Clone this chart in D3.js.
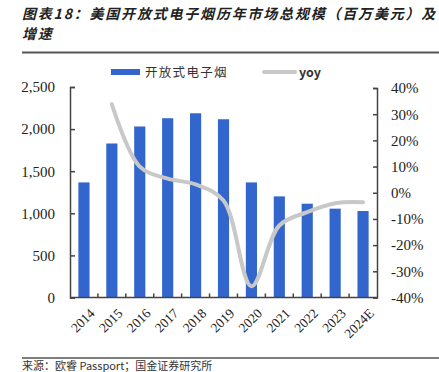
<!DOCTYPE html>
<html lang="zh">
<head>
<meta charset="utf-8">
<title>美国开放式电子烟历年市场总规模</title>
<script src="https://cdn.jsdelivr.net/npm/d3@7"></script>
<style>
  body { margin: 0; background: #fff; }
  svg { display: block; }
</style>
</head>
<body>
<div id="chart"></div>
<script>
// 数据
var years = ["2014", "2015", "2016", "2017", "2018", "2019", "2020", "2021", "2022", "2023", "2024E"];
var sales = [1367, 1829, 2031, 2129, 2188, 2117, 1367, 1201, 1114, 1055, 1027];   // 百万美元
var yoy = [null, 33.8, 10.0, 5.4, 3.2, -3.0, -35.7, -12.5, -7.4, -4.0, -3.6];      // %
var leftTicks = [0, 500, 1000, 1500, 2000, 2500];
var rightTicks = [-40, -30, -20, -10, 0, 10, 20, 30, 40];

var W = 439, H = 372;
var plot = {left: 70, right: 377, top: 87, bottom: 297.5};

var svg = d3.select("#chart").append("svg")
    .attr("width", W)
    .attr("height", H);

// 标题
var titleG = svg.append("g")
    .attr("font-family", "'Noto Sans CJK SC', sans-serif")
    .attr("font-size", "14px")
    .attr("font-weight", "bold")
    .attr("font-style", "italic")
    .attr("fill", "#222")
    .style("letter-spacing", "1.8px");
titleG.append("text").attr("x", 22).attr("y", 19)
    .text("图表18：美国开放式电子烟历年市场总规模（百万美元）及");
titleG.append("text").attr("x", 22).attr("y", 39).text("增速");

svg.append("line")
    .attr("x1", 22).attr("x2", W).attr("y1", 52.5).attr("y2", 52.5)
    .attr("stroke", "#555").attr("stroke-width", 1.8);

// 比例尺
var x = d3.scaleBand()
    .domain(years)
    .range([plot.left, plot.right])
    .paddingInner(0.6)
    .paddingOuter(0.3);

var yL = d3.scaleLinear().domain([0, 2500]).range([plot.bottom, plot.top]);
var yR = d3.scaleLinear().domain([-40, 40]).range([plot.bottom, plot.top + 1]);

// 条形
svg.append("g").selectAll("rect")
    .data(sales)
    .enter()
    .append("rect")
    .attr("x", function(d, i) { return x(years[i]); })
    .attr("y", function(d) { return yL(d); })
    .attr("width", x.bandwidth())
    .attr("height", function(d) { return plot.bottom - yL(d); })
    .attr("fill", "#3366cc");

// yoy 曲线
var pts = [];
yoy.forEach(function(v, i) {
    if (v !== null) pts.push([x(years[i]) + x.bandwidth() / 2, yR(v)]);
});
svg.append("path")
    .datum(pts)
    .attr("d", d3.line().curve(d3.curveCatmullRom.alpha(0.5)))
    .attr("fill", "none")
    .attr("stroke", "#c8c8c8")
    .attr("stroke-width", 4)
    .attr("stroke-linecap", "round");

// 坐标轴
var axisColor = "#444";
var gL = svg.append("g")
    .attr("transform", "translate(" + plot.left + ",0)")
    .call(d3.axisLeft(yL).tickValues(leftTicks).tickSize(-5).tickPadding(15)
          .tickFormat(d3.format(",")));
var gR = svg.append("g")
    .attr("transform", "translate(" + plot.right + ",0)")
    .call(d3.axisRight(yR).tickValues(rightTicks).tickSize(-4).tickPadding(14)
          .tickFormat(function(d) { return d + "%"; }));

// x 轴: 类别之间的刻度
var step = x.step();
var xTickPos = d3.range(1, years.length).map(function(i) { return plot.left + x.paddingOuter() * step - x.paddingInner() * step / 2 + i * step; });
var gX = svg.append("g");
gX.append("line")
    .attr("x1", plot.left).attr("x2", plot.right)
    .attr("y1", plot.bottom).attr("y2", plot.bottom);
gX.selectAll("line.tk")
    .data(xTickPos)
    .enter()
    .append("line")
    .attr("class", "tk")
    .attr("x1", function(d) { return d; }).attr("x2", function(d) { return d; })
    .attr("y1", plot.bottom).attr("y2", plot.bottom - 4);
gX.selectAll("line").attr("stroke", axisColor).attr("stroke-width", 1.5);

gX.selectAll("text")
    .data(years)
    .enter()
    .append("text")
    .attr("transform", function(d) {
        return "translate(" + (x(d) + x.bandwidth() / 2 + 5) + "," + (plot.bottom + 10) + ") rotate(-45)";
    })
    .attr("text-anchor", "end")
    .attr("dy", "0.7em")
    .attr("font-family", "'Liberation Serif', serif")
    .attr("font-size", "13.5px")
    .attr("fill", "#222")
    .text(function(d) { return d; });

[gL, gR].forEach(function(g) {
    g.select(".domain").attr("stroke", axisColor).attr("stroke-width", 1.5);
    g.selectAll(".tick line").attr("stroke", axisColor).attr("stroke-width", 1.5);
    g.selectAll(".tick text")
        .attr("font-family", "'Liberation Serif', serif")
        .attr("font-size", "15px")
        .attr("fill", "#222");
});

// 图例
var leg = svg.append("g")
    .attr("font-family", "'Noto Sans CJK SC', sans-serif")
    .attr("font-size", "12.5px")
    .attr("fill", "#333");
leg.append("rect").attr("x", 111).attr("y", 69).attr("width", 29).attr("height", 6).attr("fill", "#3366cc");
leg.append("text").attr("x", 145).attr("y", 77).style("letter-spacing", "1.3px").text("开放式电子烟");
leg.append("line").attr("x1", 264).attr("x2", 295).attr("y1", 72).attr("y2", 72)
    .attr("stroke", "#c8c8c8").attr("stroke-width", 4).attr("stroke-linecap", "round");
leg.append("text").attr("x", 299).attr("y", 77).attr("font-weight", "bold").text("yoy");

// 底部来源
svg.append("line")
    .attr("x1", 22).attr("x2", W).attr("y1", 358).attr("y2", 358)
    .attr("stroke", "#555").attr("stroke-width", 1.5);
svg.append("text")
    .attr("x", 22).attr("y", 370)
    .attr("font-family", "'Noto Sans CJK SC', sans-serif")
    .attr("font-size", "11px")
    .attr("fill", "#333")
    .text("来源：欧睿 Passport；国金证券研究所");
</script>
</body>
</html>
